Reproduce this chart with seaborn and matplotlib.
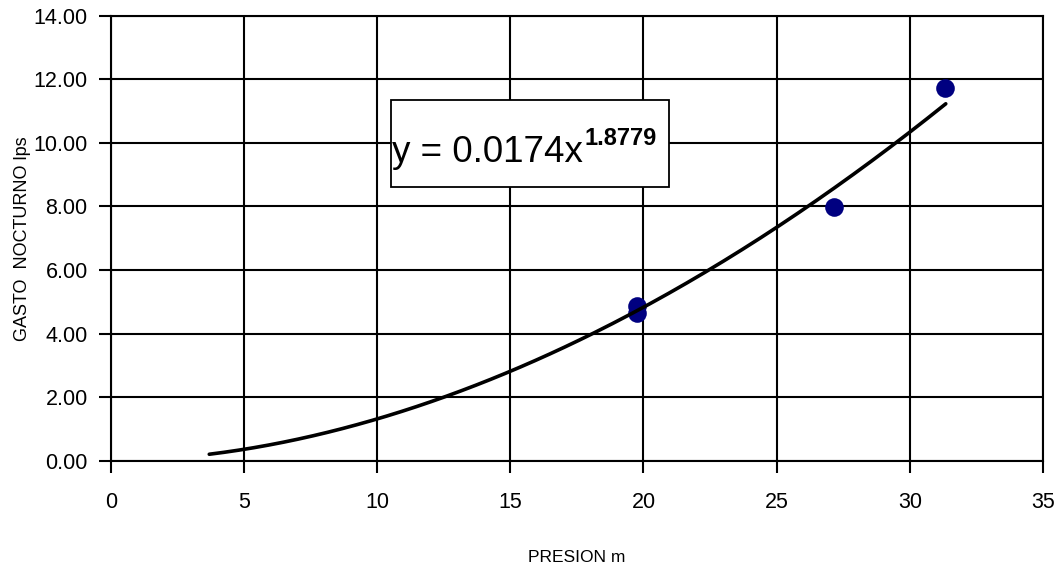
import numpy as np
import pandas as pd
import matplotlib
matplotlib.use("Agg")
import matplotlib.pyplot as plt
from matplotlib import font_manager
from matplotlib.patches import Rectangle
from matplotlib.ticker import StrMethodFormatter
import seaborn as sns

# puntos medidos (presion m, gasto nocturno lps)
presion = [19.77, 19.77, 27.15, 31.32]
gasto = [4.88, 4.66, 7.99, 11.71]

# linea de tendencia potencial y = a * x^b
coef_a = 0.0174
coef_b = 1.8779
trend_x_min = 3.7
trend_x_max = 31.35

x_ticks = [0, 5, 10, 15, 20, 25, 30, 35]
y_ticks = [0, 2, 4, 6, 8, 10, 12, 14]

sns.set_theme(style="white")

# fuente estrecha tipo Arial Narrow si existe
names = {f.name for f in font_manager.fontManager.ttflist}
narrow = "Liberation Sans Narrow" in names
if narrow:
    fam_num = ["Liberation Sans Narrow", "Liberation Sans", "DejaVu Sans"]
    fs_tick, fs_eq, fs_sup = 18.5, 32, 20.5
else:
    fam_num = ["Liberation Sans", "DejaVu Sans"]
    fs_tick, fs_eq, fs_sup = 15.5, 26.5, 17
plt.rcParams["font.family"] = ["Liberation Sans", "DejaVu Sans"]

df = pd.DataFrame({"presion": presion, "gasto": gasto})
tx = np.linspace(trend_x_min, trend_x_max, 200)
trend = pd.DataFrame({"presion": tx, "gasto": coef_a * tx ** coef_b})

fig = plt.figure(figsize=(10.59, 5.64), dpi=100)
ax = fig.add_axes([110.7 / 1059, 1 - 460.7 / 564, 932.3 / 1059, 445 / 564])

sns.scatterplot(data=df, x="presion", y="gasto", ax=ax, color="#000080",
                s=180, edgecolor="#000080", linewidth=0, zorder=3)
sns.lineplot(data=trend, x="presion", y="gasto", ax=ax, color="black",
             lw=2.6, zorder=4)

ax.set_xlim(0, 35)
ax.set_ylim(0, 14)
ax.set_xticks(x_ticks)
ax.set_yticks(y_ticks)
ax.yaxis.set_major_formatter(StrMethodFormatter("{x:.2f}"))
ax.grid(True, color="black", lw=1.5)
ax.set_axisbelow(True)
for sp in ax.spines.values():
    sp.set_color("black")
    sp.set_linewidth(1.5)

ax.tick_params(axis="both", which="major", direction="out", length=8.6,
               width=1.5, color="black", labelcolor="black",
               bottom=True, left=True, labelsize=fs_tick)
ax.tick_params(axis="x", pad=14)
ax.tick_params(axis="y", pad=8)
for lab in ax.get_xticklabels() + ax.get_yticklabels():
    lab.set_family(fam_num)

ax.set_xlabel("PRESION m", fontsize=12.5, color="black")
ax.xaxis.set_label_coords(0.5, -0.2)
ax.set_ylabel("GASTO  NOCTURNO lps", fontsize=13, color="black")
ax.yaxis.set_label_coords(-0.0855, 0.5)

# recuadro con la ecuacion
ax.add_patch(Rectangle((0.3007, 0.6144), 0.2985, 0.1962, transform=ax.transAxes,
                       facecolor="white", edgecolor="black", lw=1.3, zorder=5))
main = ax.text(0.3015, 0.6719, "y = 0.0174x", transform=ax.transAxes,
               ha="left", va="baseline", fontsize=fs_eq, family=fam_num,
               color="black", zorder=6)
ax.annotate("1.8779", xy=(1.0, 0.7094), xycoords=(main, "axes fraction"),
            xytext=(1, 0), textcoords="offset points", ha="left", va="baseline",
            fontsize=fs_sup, fontweight="bold", family=fam_num, color="black",
            zorder=6)

fig.savefig("out.png", dpi=100)
